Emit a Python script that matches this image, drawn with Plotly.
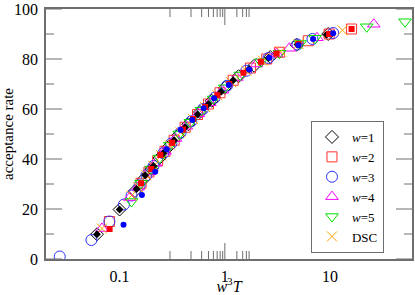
import math
import plotly.graph_objects as go

# ---- data ----
w1_x = [0.061, 0.1, 0.14, 0.17, 0.2, 0.24, 0.29, 0.36, 0.45, 0.58, 0.75, 1.0, 1.35, 1.9, 2.7, 4.8, 9.6]
w1_y = [9.9, 19.8, 27.2, 32, 36, 40.4, 44.7, 49.4, 53.9, 58.8, 63.3, 68.5, 73.1, 77.3, 80.8, 85.7, 90]

w2_x = [0.08, 0.16, 0.19, 0.23, 0.27, 0.33, 0.42, 0.55, 0.7, 0.9, 1.2, 1.75, 2.5, 3.3, 6.2, 9.8, 16]
w2_y = [15, 30.3, 34.8, 39.3, 43.1, 47.5, 52.7, 57.8, 62, 66.5, 71.5, 76.4, 80, 82.7, 87.3, 90, 92]

w3_x = [0.027, 0.054, 0.08, 0.11, 0.13, 0.155, 0.18, 0.21, 0.26, 0.31, 0.38, 0.48, 0.62, 0.8, 1.05, 1.6, 2.6, 4.9, 6.8, 10.7]
w3_y = [1, 7.6, 15, 21.8, 25.4, 29.5, 33.5, 37.2, 42.3, 46.2, 50.6, 55.1, 60, 64.5, 69.3, 75.3, 80.4, 85.8, 88, 90.4]

w4_x = [0.068, 0.125, 0.15, 0.19, 0.22, 0.27, 0.34, 0.43, 0.56, 0.72, 0.95, 1.3, 2.0, 3.1, 4.1, 7.5, 26]
w4_y = [12.2, 24.6, 28.7, 34.8, 38.3, 43.1, 48.2, 53.1, 58.1, 62.5, 67.5, 72.6, 78, 82.2, 84.3, 88.5, 93.9]

w5_x = [0.13, 0.16, 0.2, 0.24, 0.3, 0.37, 0.47, 0.6, 0.78, 1.0, 1.4, 2.2, 3.3, 5.2, 7.2, 22.3, 51.5]
w5_y = [23, 30.3, 36, 40.4, 45.5, 50, 54.7, 59.5, 64, 68.5, 73.6, 78.9, 82.3, 86.2, 88.3, 92.9, 94.9]

dsc_x = [0.068, 0.13, 0.15, 0.18, 0.21, 0.25, 0.3, 0.38, 0.5, 0.65, 0.85, 1.15, 1.6, 2.3, 3.4, 5.0, 13.1]
dsc_y = [12.2, 25.4, 28.7, 33.5, 37.2, 41.4, 45.5, 50.6, 56, 60.8, 65.5, 70.7, 75.3, 79.3, 83, 86, 91.5]

f1_x = [0.061, 0.1, 0.145, 0.175, 0.21, 0.26, 0.33, 0.42, 0.55, 0.7, 0.92, 1.2, 1.7, 2.6, 4.9, 9.3]
f1_y = [9.9, 19.8, 28, 33.5, 37.2, 42.3, 47.5, 52.7, 57.8, 62, 66.9, 71.5, 76, 80.4, 85.8, 89.8]

f2_x = [0.0804, 0.16, 0.2, 0.244, 0.316, 0.4, 0.5, 0.65, 0.85, 1.1, 1.5, 2.2, 3.1, 5.0, 9.8, 16]
f2_y = [12, 30.3, 36, 41.6, 46.5, 51.8, 56, 60.8, 65.5, 70, 74.5, 78.9, 82.2, 86, 90, 92]

f3_x = [0.109, 0.163, 0.218, 0.28, 0.38, 0.49, 0.63, 0.79, 1.09, 1.7, 2.65, 5.0, 6.9, 10.7]
f3_y = [13.7, 25.6, 34.9, 43.9, 51.6, 55.6, 60.3, 64.3, 69.6, 75.8, 80.5, 85.5, 88, 90.3]

x_major = [0.1, 1, 10]
x_major_text = ["0.1", "1", "10"]
x_minor = [0.03, 0.04, 0.05, 0.06, 0.07, 0.08, 0.09,
           0.2, 0.3, 0.4, 0.5, 0.6, 0.7, 0.8, 0.9,
           2, 3, 4, 5, 6, 7, 8, 9, 20, 30, 40, 50]
y_major = [0, 20, 40, 60, 80, 100]
y_minor = [10, 30, 50, 70, 90]

FONT = "Liberation Serif"
GRAY = "#6e6e6e"
PLOT_W, PLOT_H = 366, 250
MAJ_LEN, MIN_LEN = 16, 8

fig = go.Figure()

open_series = [
    ("<i>w</i>=1", w1_x, w1_y, "diamond-open", "black", 10),
    ("<i>w</i>=2", w2_x, w2_y, "square-open", "#ff3030", 10),
    ("<i>w</i>=3", w3_x, w3_y, "circle-open", "#3030ff", 11),
    ("<i>w</i>=4", w4_x, w4_y, "triangle-up-open", "#ff00ff", 11),
    ("<i>w</i>=5", w5_x, w5_y, "triangle-down-open", "#00e000", 11),
    ("DSC", dsc_x, dsc_y, "x-thin-open", "#ffa500", 10),
]
for name, xs, ys, sym, col, sz in open_series:
    fig.add_trace(go.Scatter(
        x=xs, y=ys, mode="markers", name=name,
        marker=dict(symbol=sym, size=sz, color=col, line=dict(color=col, width=1))))

filled_series = [
    (f1_x, f1_y, "diamond", "black", 6),
    (f2_x, f2_y, "square", "#ff0000", 6),
    (f3_x, f3_y, "circle", "#0000ff", 6),
]
for xs, ys, sym, col, sz in filled_series:
    fig.add_trace(go.Scatter(
        x=xs, y=ys, mode="markers", showlegend=False,
        marker=dict(symbol=sym, size=sz, color=col, line=dict(width=0))))

# inside tick marks on all four sides (positions taken from the tick lists)
tick_line = dict(color=GRAY, width=1)
for vals, ln in ((x_major, MAJ_LEN), (x_minor, MIN_LEN)):
    f = ln / PLOT_H
    for v in vals:
        lv = math.log10(v)
        fig.add_shape(type="line", xref="x", yref="paper", x0=lv, x1=lv,
                      y0=0, y1=f, line=tick_line, layer="above")
        fig.add_shape(type="line", xref="x", yref="paper", x0=lv, x1=lv,
                      y0=1, y1=1 - f, line=tick_line, layer="above")
for vals, ln in ((y_major, MAJ_LEN), (y_minor, MIN_LEN)):
    f = ln / PLOT_W
    for v in vals:
        fig.add_shape(type="line", xref="paper", yref="y", x0=0, x1=f,
                      y0=v, y1=v, line=tick_line, layer="above")
        fig.add_shape(type="line", xref="paper", yref="y", x0=1, x1=1 - f,
                      y0=v, y1=v, line=tick_line, layer="above")

xr = [-1.699, 1.778]
fig.update_layout(
    width=415, height=295,
    margin=dict(l=46, r=3, t=9, b=36),
    paper_bgcolor="white", plot_bgcolor="white",
    font=dict(family=FONT, size=16, color="black"),
    showlegend=True,
    legend=dict(x=0.724, y=0.552, xanchor="left", yanchor="top",
                bordercolor=GRAY, borderwidth=1, bgcolor="white",
                font=dict(family=FONT, size=13), itemwidth=30,
                tracegroupgap=0),
)
fig.update_xaxes(type="log", range=xr, automargin=False,
                 tickmode="array", tickvals=x_major, ticktext=x_major_text,
                 ticks="", showgrid=False, zeroline=False,
                 showline=True, linecolor=GRAY, linewidth=1.5, mirror=True,
                 tickfont=dict(family=FONT, size=16),
                 title=dict(text="<i>w</i><sup>3</sup><i>T</i>", standoff=0,
                            font=dict(family=FONT, size=16)))
fig.update_yaxes(range=[0, 100], automargin=False, tickmode="array",
                 tickvals=y_major, ticktext=[str(v) for v in y_major],
                 ticks="", showgrid=False, zeroline=False, showline=True,
                 linecolor=GRAY, linewidth=1.5, mirror=True,
                 tickfont=dict(family=FONT, size=16),
                 title=dict(text="acceptance rate", standoff=0,
                            font=dict(family=FONT, size=15)))

try:
    fig.update_xaxes(ticklabelstandoff=2)
    fig.update_yaxes(ticklabelstandoff=3)
except Exception:
    pass

fig.write_html("out.html",
               config={"displayModeBar": False},
               post_script="document.body.style.margin='0';document.body.style.overflow='hidden';")
